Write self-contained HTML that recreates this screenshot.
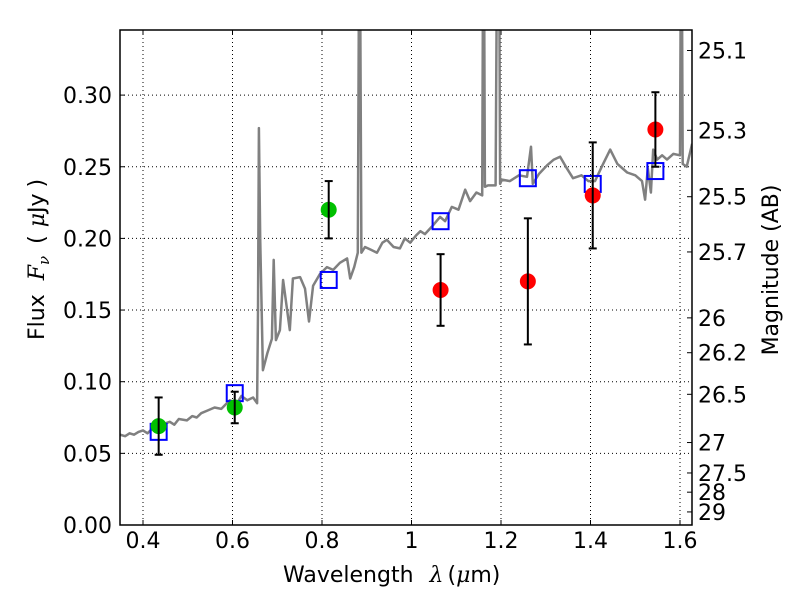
<!DOCTYPE html>
<html><head><meta charset="utf-8"><style>
body{margin:0;background:#fff}
svg text{font-family:"DejaVu Sans","Liberation Sans",sans-serif;fill:#000}
</style></head><body>
<svg id="chart" width="800" height="600" xmlns="http://www.w3.org/2000/svg"></svg>
<script>
const specLam=[0.349,0.36,0.37,0.38,0.39,0.4,0.41,0.42,0.43,0.44,0.45,0.46,0.47,0.48,0.498,0.51,0.52,0.53,0.545,0.56,0.575,0.594,0.61,0.62,0.633,0.646,0.655,0.657,0.659,0.662,0.668,0.678,0.688,0.692,0.697,0.706,0.713,0.728,0.735,0.751,0.762,0.771,0.780,0.795,0.811,0.825,0.840,0.856,0.863,0.872,0.880,0.883,0.885,0.888,0.896,0.91,0.923,0.935,0.945,0.96,0.974,0.985,0.997,1.01,1.02,1.03,1.045,1.064,1.075,1.09,1.105,1.120,1.131,1.145,1.158,1.160,1.162,1.164,1.171,1.188,1.191,1.196,1.198,1.202,1.22,1.24,1.258,1.267,1.271,1.285,1.303,1.318,1.332,1.345,1.361,1.38,1.395,1.410,1.425,1.444,1.46,1.482,1.50,1.515,1.522,1.528,1.535,1.540,1.549,1.56,1.571,1.585,1.600,1.602,1.604,1.606,1.615,1.627];
const specFlux=[0.063,0.062,0.064,0.063,0.065,0.066,0.064,0.067,0.069,0.068,0.071,0.072,0.070,0.074,0.073,0.076,0.075,0.078,0.080,0.082,0.081,0.087,0.085,0.090,0.087,0.089,0.085,0.150,0.277,0.200,0.108,0.120,0.130,0.185,0.129,0.136,0.171,0.136,0.172,0.173,0.165,0.142,0.167,0.175,0.180,0.178,0.183,0.186,0.172,0.180,0.190,0.40,0.40,0.190,0.194,0.192,0.190,0.197,0.199,0.194,0.193,0.200,0.197,0.202,0.205,0.203,0.208,0.215,0.212,0.222,0.220,0.234,0.226,0.232,0.230,0.40,0.40,0.236,0.237,0.237,0.40,0.40,0.238,0.241,0.240,0.244,0.243,0.264,0.238,0.245,0.251,0.255,0.257,0.250,0.242,0.244,0.240,0.240,0.250,0.262,0.252,0.246,0.244,0.240,0.227,0.249,0.232,0.262,0.255,0.258,0.255,0.259,0.258,0.40,0.40,0.252,0.25,0.266];
const photLam=[0.435,0.605,0.815,1.065,1.26,1.405,1.545];
const photFlux=[0.069,0.082,0.220,0.164,0.170,0.230,0.276];
const photErr=[0.020,0.011,0.020,0.025,0.044,0.037,0.026];
const photColor=['#00c000','#00c000','#00c000','#ff0000','#ff0000','#ff0000','#ff0000'];
const modelFlux=[0.065,0.092,0.171,0.212,0.242,0.238,0.247];
const xTicks=[0.4,0.6,0.8,1.0,1.2,1.4,1.6];
const xTickLabels=['0.4','0.6','0.8','1','1.2','1.4','1.6'];
const yTicks=[0,0.05,0.10,0.15,0.20,0.25,0.30];
const yTickLabels=['0.00','0.05','0.10','0.15','0.20','0.25','0.30'];
const magTicks=[25.1,25.3,25.5,25.7,26,26.2,26.5,27,27.5,28,29];
const magLabels=['25.1','25.3','25.5','25.7','26','26.2','26.5','27','27.5','28','29'];

const L=120,R=692,T=30,B=525;
const X=v=>143+(v-0.4)*447.5;
const Y=v=>525-v*1433;
const svg=document.getElementById('chart');
const NS='http://www.w3.org/2000/svg';
function mk(tag,attrs,parent){const e=document.createElementNS(NS,tag);for(const k in attrs)e.setAttribute(k,attrs[k]);(parent||svg).appendChild(e);return e;}

const clip=mk('clipPath',{id:'pc'});mk('rect',{x:L,y:T,width:R-L,height:B-T},clip);

xTicks.forEach((t,i)=>{
  const g=mk('line',{x1:X(t),x2:X(t),y1:T,y2:B,stroke:'#000','stroke-width':1,'stroke-dasharray':'1,3'});
  
  const tk=mk('line',{x1:X(t),x2:X(t),y1:B,y2:B-5,stroke:'#000'});
  
  mk('line',{x1:X(t),x2:X(t),y1:T,y2:T+5,stroke:'#000'});
  const tx=mk('text',{x:X(t),y:B+23,'text-anchor':'middle','font-size':22});tx.textContent=xTickLabels[i];
  
});
yTicks.forEach((t,i)=>{
  const g=mk('line',{x1:L,x2:R,y1:Y(t),y2:Y(t),stroke:'#000','stroke-width':1,'stroke-dasharray':'1,3'});
  
  mk('line',{x1:L,x2:L+5,y1:Y(t),y2:Y(t),stroke:'#000'});
  const tx=mk('text',{x:L-8,y:Y(t)+8,'text-anchor':'end','font-size':22});tx.textContent=yTickLabels[i];
  
});
magTicks.forEach((m,i)=>{
  const f=Math.pow(10,(23.9-m)/2.5);const y=Y(f);
  const tk=mk('line',{x1:R,x2:R-5,y1:y,y2:y,stroke:'#000'});
  
  const tx=mk('text',{x:R+6,y:y+8,'font-size':22});tx.textContent=magLabels[i];
  
});

const pts=specLam.map((l,i)=>X(l).toFixed(1)+','+Y(specFlux[i]).toFixed(1)).join(' ');
const sp=mk('polyline',{points:pts,fill:'none',stroke:'#808080','stroke-width':2.5,'stroke-linejoin':'round','clip-path':'url(#pc)'});


modelFlux.forEach((f,i)=>{
  const r=mk('rect',{x:X(photLam[i])-8,y:Y(f)-8,width:16,height:16,fill:'none',stroke:'#0000ff','stroke-width':2});
  
});
photLam.forEach((l,i)=>{
  const x=X(l),y1=Y(photFlux[i]-photErr[i]),y2=Y(photFlux[i]+photErr[i]);
  const c=mk('circle',{cx:x,cy:Y(photFlux[i]),r:8,fill:photColor[i]});
  
  const e=mk('line',{x1:x,x2:x,y1:y1,y2:y2,stroke:'#000','stroke-width':2,'clip-path':'url(#pc)'});
  
  mk('line',{x1:x-4,x2:x+4,y1:y1,y2:y1,stroke:'#000','stroke-width':2,'clip-path':'url(#pc)'});
  mk('line',{x1:x-4,x2:x+4,y1:y2,y2:y2,stroke:'#000','stroke-width':2,'clip-path':'url(#pc)'});
});

const fr=mk('rect',{x:L,y:T,width:R-L,height:B-T,fill:'none',stroke:'#000','stroke-width':1.5});


const xl=mk('text',{x:283,y:582,'font-size':22});
xl.innerHTML='Wavelength<tspan dx="16" font-style="italic" font-family="DejaVu Serif">λ</tspan><tspan dx="4">(</tspan><tspan font-style="italic" font-family="DejaVu Serif">μ</tspan>m)';

const yl=mk('text',{x:0,y:0,transform:'translate(44,340) rotate(-90)','font-size':22});
yl.innerHTML='Flux<tspan dx="14" font-style="italic" font-family="DejaVu Serif">F</tspan><tspan font-style="italic" font-family="DejaVu Serif" font-size="15" dy="5">ν</tspan><tspan dy="-5" dx="12">(</tspan><tspan dx="8" font-style="italic" font-family="DejaVu Serif">μ</tspan>Jy<tspan dx="6">)</tspan>';

const ml=mk('text',{x:0,y:0,'text-anchor':'middle','font-size':22,transform:'translate(778,270) rotate(-90)'});
ml.textContent='Magnitude (AB)';

</script>
</body></html>
